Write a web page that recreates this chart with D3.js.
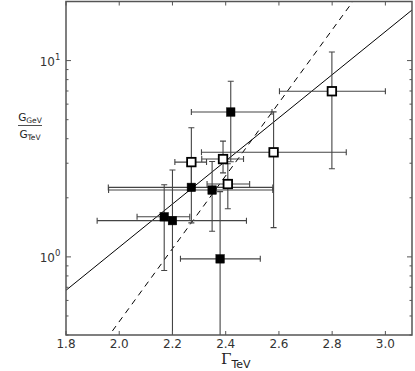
<!DOCTYPE html>
<html><head><meta charset="utf-8">
<script src="https://cdn.jsdelivr.net/npm/d3@7"></script>
<style>body{margin:0;background:#fff}svg{display:block}</style>
</head><body>
<svg id="c" width="415" height="371"></svg>
<script>
// ---- data ----
const gamma     = [2.419, 2.271, 2.349, 2.169, 2.200, 2.379, 2.271, 2.390, 2.408, 2.580, 2.799];
const gammaLo   = [2.271, 1.959, 1.960, 2.067, 1.917, 2.230, 2.209, 2.310, 2.330, 2.309, 2.602];
const gammaHi   = [2.574, 2.577, 2.577, 2.265, 2.478, 2.530, 2.328, 2.467, 2.490, 2.853, 3.000];
const ratio     = [5.47, 2.26, 2.19, 1.60, 1.53, 0.977, 3.04, 3.15, 2.35, 3.41, 6.98];
const ratioLo   = [3.05, 1.49, 1.35, 0.852, 0.30, 0.30, 2.26, 2.68, 1.76, 1.41, 2.81];
const ratioHi   = [7.85, 3.04, 3.06, 2.33, 2.77, 2.15, 4.55, 3.89, 2.98, 5.48, 11.06];
const filled    = [true, true, true, true, true, true, false, false, false, false, false];
const solidLine = [[1.8, 0.676], [3.1, 18.1]];
const dashedLine = [[1.95, 0.378], [2.9, 22.0]];
const xTicks = [1.8, 2.0, 2.2, 2.4, 2.6, 2.8, 3.0];
const yMajor = [1, 10];
const yMajorLabels = [["10","0"], ["10","1"]];
const yMinor = [0.4,0.5,0.6,0.7,0.8,0.9,2,3,4,5,6,7,8,9];

const svg = d3.select("#c");
const L = 66, R = 412, T = 1.5, B = 335;
const x = d3.scaleLinear().domain([1.8, 3.1]).range([L, R]);
const y = d3.scaleLog().domain([0.4, 20]).range([B, T]);

svg.append("defs").append("clipPath").attr("id","clip")
  .append("rect").attr("x",L).attr("y",T).attr("width",R-L).attr("height",B-T);

const plot = svg.append("g").attr("clip-path","url(#clip)");

// fit lines
const line = d3.line().x(d=>x(d[0])).y(d=>y(d[1]));
plot.append("path").attr("d", line(solidLine)).attr("fill","none")
  .attr("stroke","#000").attr("stroke-width",1);
plot.append("path").attr("d", line(dashedLine)).attr("fill","none")
  .attr("stroke","#000").attr("stroke-width",1).attr("stroke-dasharray","6,5");

// error bars
const idx = d3.range(gamma.length);
const cap = 3;
const eb = plot.append("g").attr("stroke","#444").attr("stroke-width",1.1).attr("fill","none");
idx.forEach(i=>{
  const cx = x(gamma[i]), cy = y(ratio[i]);
  const x0 = x(gammaLo[i]), x1 = x(gammaHi[i]);
  const y0 = y(ratioLo[i]), y1 = y(ratioHi[i]);
  eb.append("line").attr("x1",x0).attr("x2",x1).attr("y1",cy).attr("y2",cy);
  eb.append("line").attr("x1",x0).attr("x2",x0).attr("y1",cy-cap).attr("y2",cy+cap);
  eb.append("line").attr("x1",x1).attr("x2",x1).attr("y1",cy-cap).attr("y2",cy+cap);
  eb.append("line").attr("x1",cx).attr("x2",cx).attr("y1",y0).attr("y2",y1);
  eb.append("line").attr("x1",cx-cap).attr("x2",cx+cap).attr("y1",y0).attr("y2",y0);
  eb.append("line").attr("x1",cx-cap).attr("x2",cx+cap).attr("y1",y1).attr("y2",y1);
});

// markers
const s = 8.5;
plot.selectAll("rect.m").data(idx).enter().append("rect").attr("class","m")
  .attr("x", i=>x(gamma[i])-s/2).attr("y", i=>y(ratio[i])-s/2)
  .attr("width", s).attr("height", s)
  .attr("fill", i=>filled[i] ? "#000" : "#fff")
  .attr("stroke","#000").attr("stroke-width", i=>filled[i]?0.5:1.8);

// frame
svg.append("rect").attr("x",L).attr("y",T).attr("width",R-L).attr("height",B-T)
  .attr("fill","none").attr("stroke","#555").attr("stroke-width",1.5);

// ticks (inward) bottom/top
const tk = svg.append("g").attr("stroke","#555").attr("stroke-width",1);
xTicks.forEach(v=>{
  tk.append("line").attr("x1",x(v)).attr("x2",x(v)).attr("y1",B).attr("y2",B-4);
  tk.append("line").attr("x1",x(v)).attr("x2",x(v)).attr("y1",T).attr("y2",T+4);
});
yMajor.forEach(v=>{
  tk.append("line").attr("x1",L).attr("x2",L+5).attr("y1",y(v)).attr("y2",y(v));
  tk.append("line").attr("x1",R).attr("x2",R-5).attr("y1",y(v)).attr("y2",y(v));
});
yMinor.forEach(v=>{
  tk.append("line").attr("x1",L).attr("x2",L+2.5).attr("y1",y(v)).attr("y2",y(v));
  tk.append("line").attr("x1",R).attr("x2",R-2.5).attr("y1",y(v)).attr("y2",y(v));
});

// tick labels
const font = "DejaVu Sans, sans-serif";
svg.append("g").selectAll("text").data(xTicks).enter().append("text")
  .attr("x", d=>x(d)).attr("y", B+13).attr("text-anchor","middle")
  .attr("font-family",font).attr("font-size",12).attr("fill","#333")
  .text(d=>d3.format(".1f")(d));

yMajor.forEach((v,i)=>{
  const t = svg.append("text").attr("x",55).attr("y",y(v)+5).attr("text-anchor","end")
    .attr("font-family",font).attr("font-size",12).attr("fill","#333");
  t.text(yMajorLabels[i][0]);
  svg.append("text").attr("x",55).attr("y",y(v)-1).attr("font-family",font)
    .attr("font-size",8.5).attr("fill","#333").text(yMajorLabels[i][1]);
});

// x label
const xl = svg.append("text").attr("x",221).attr("y",364).attr("fill","#222");
xl.append("tspan").attr("font-family","DejaVu Serif, serif").attr("font-size",15).text("Γ");
xl.append("tspan").attr("font-family",font).attr("font-size",11).attr("dy",4).text("TeV");

// y label (fraction)
const yl = svg.append("g").attr("fill","#222").attr("font-family",font);
const num = yl.append("text").attr("x",30).attr("y",121).attr("text-anchor","middle");
num.append("tspan").attr("font-size",10.5).text("G");
num.append("tspan").attr("font-size",7.5).attr("dy",2).text("GeV");
const den = yl.append("text").attr("x",30).attr("y",138).attr("text-anchor","middle");
den.append("tspan").attr("font-size",10.5).text("G");
den.append("tspan").attr("font-size",7.5).attr("dy",2).text("TeV");
svg.append("line").attr("x1",18).attr("x2",42).attr("y1",125.5).attr("y2",125.5)
  .attr("stroke","#222").attr("stroke-width",0.8);
</script>
</body></html>
